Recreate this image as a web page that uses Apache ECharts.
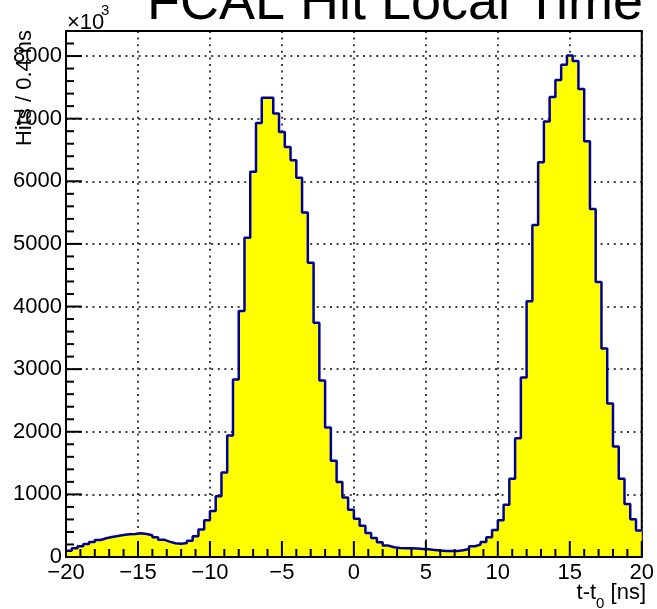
<!DOCTYPE html>
<html>
<head>
<meta charset="utf-8">
<script src="https://cdn.jsdelivr.net/npm/echarts@6/dist/echarts.min.js"></script>
<style>
html,body{margin:0;padding:0;background:#fff;}
#c{width:657px;height:609px;}
</style>
</head>
<body>
<div id="c"></div>
<script>
// ---- data ----
const titleText = 'FCAL Hit Local Time';
const yTitle = 'Hits / 0.4 ns';
const binLow = -20;
const binWidth = 0.4;
const xMin = -20, xMax = 20, xInterval = 5, xMinorInterval = 1;
const yMin = 0, yMax = 8400, yInterval = 1000, yMinorInterval = 200;
const counts = [
  100, 139, 171, 208, 240, 272, 299, 320, 336, 352,
  363, 368, 378, 368, 347, 315, 277, 246, 219, 213,
  225, 260, 330, 440, 585, 735, 970, 1350, 1940, 2833,
  3929, 5098, 6151, 6932, 7333, 7333, 7081, 6788, 6549, 6337,
  6055, 5502, 4699, 3742, 2817, 2068, 1537, 1197, 952, 755,
  612, 500, 384, 304, 235, 182, 155, 144, 139, 139,
  134, 129, 123, 113, 102, 97, 97, 97, 107, 129,
  171, 198, 240, 314, 430, 585, 836, 1250, 1898, 2866,
  4083, 5300, 6305, 6954, 7347, 7618, 7863, 8007, 7922, 7475,
  6640, 5556, 4392, 3329, 2452, 1766, 1250, 846, 601, 425
];

// ---- build ----
const stepData = counts.map((c, i) => [binLow + i * binWidth, c]);
stepData.push([binLow + counts.length * binWidth, counts[counts.length - 1]]);

const xTickValues = [];
for (let v = xMin; v <= xMax; v += xMinorInterval) xTickValues.push(v);
const yTickValues = [];
for (let v = yMin; v <= yMax; v += yMinorInterval) yTickValues.push(v);

const FONT = '"Liberation Sans", Arial, Helvetica, sans-serif';
const fmtX = v => (v < 0 ? '\u2212' + Math.abs(v) : String(v));
const fmtY = v => String(v);
const MAJOR_LEN = 16, MINOR_LEN = 8;

const chart = echarts.init(document.getElementById('c'), null, {renderer: 'canvas'});
const gridLine = {show: true, lineStyle: {color: '#000', width: 1.5, type: [2, 4.6]}};

const graphics = [
  {type: 'text', id: 'title', z: 100, style: {text: titleText, x: 395, y: 4, align: 'center', verticalAlign: 'middle', font: '54px ' + FONT, fill: '#000'}},
  {type: 'text', id: 'mult', z: 100, style: {text: '\u00d710', x: 67, y: 23, align: 'left', verticalAlign: 'middle', font: '22px ' + FONT, fill: '#000'}},
  {type: 'text', id: 'exp', z: 100, style: {text: '3', x: 101, y: 11, align: 'left', verticalAlign: 'middle', font: '15px ' + FONT, fill: '#000'}},
  {type: 'text', id: 'ytitle', z: 100, rotation: Math.PI / 2, x: 25, y: 88, style: {text: yTitle, x: 0, y: 0, align: 'center', verticalAlign: 'middle', font: '22px ' + FONT, fill: '#000'}},
  {type: 'text', id: 'xtitle', z: 100, style: {
    text: '{a|t-t}{b|0}{a| [ns]}', x: 646, y: 575, align: 'right', verticalAlign: 'top',
    rich: {
      a: {fontSize: 22, fontFamily: FONT, lineHeight: 36, verticalAlign: 'middle', fill: '#000', color: '#000'},
      b: {fontSize: 15, fontFamily: FONT, lineHeight: 12, verticalAlign: 'bottom', fill: '#000', color: '#000'}
    }
  }}
];

chart.setOption({
  animation: false,
  backgroundColor: '#fff',
  grid: {left: 66, right: 10, top: 31, bottom: 52, show: true, borderColor: '#000', borderWidth: 2, backgroundColor: 'transparent', z: 0},
  xAxis: [
    {type: 'value', min: xMin, max: xMax, interval: xInterval, position: 'bottom', z: 0,
      axisLine: {show: false, onZero: false}, axisTick: {show: false}, axisLabel: {show: false}, splitLine: gridLine},
    {type: 'value', min: xMin, max: xMax, interval: xInterval, position: 'bottom', z: 10,
      axisLine: {show: true, onZero: false, lineStyle: {color: '#000', width: 2}},
      axisTick: {show: false},
      axisLabel: {show: true, margin: 5, color: '#000', fontSize: 22, fontFamily: FONT, formatter: fmtX},
      splitLine: {show: false}}
  ],
  yAxis: [
    {type: 'value', min: yMin, max: yMax, interval: yInterval, position: 'left', z: 0,
      axisLine: {show: false, onZero: false}, axisTick: {show: false}, axisLabel: {show: false}, splitLine: gridLine},
    {type: 'value', min: yMin, max: yMax, interval: yInterval, position: 'left', z: 10,
      axisLine: {show: true, onZero: false, lineStyle: {color: '#000', width: 2}},
      axisTick: {show: false},
      axisLabel: {show: true, margin: 4, color: '#000', fontSize: 22, fontFamily: FONT, showMaxLabel: false, formatter: fmtY},
      splitLine: {show: false}}
  ],
  series: [{
    type: 'line',
    xAxisIndex: 0, yAxisIndex: 0,
    data: stepData,
    step: 'end',
    showSymbol: false,
    symbol: 'none',
    lineStyle: {color: '#000099', width: 2.5},
    areaStyle: {color: '#ffff00', opacity: 1, origin: 'start'},
    z: 2
  }]
});

// tick marks as filled rectangles, positioned through the library's own axis scales
xTickValues.forEach((v, i) => {
  const p = chart.convertToPixel({xAxisIndex: 0, yAxisIndex: 0}, [v, yMin]);
  const len = (v % xInterval === 0) ? MAJOR_LEN : MINOR_LEN;
  graphics.push({type: 'rect', id: 'xt' + i, z: 50, silent: true,
    shape: {x: p[0] - 1, y: p[1] - len, width: 2, height: len},
    style: {fill: '#000'}});
});
yTickValues.forEach((v, i) => {
  const p = chart.convertToPixel({xAxisIndex: 0, yAxisIndex: 0}, [xMin, v]);
  const len = (v % yInterval === 0) ? MAJOR_LEN : MINOR_LEN;
  graphics.push({type: 'rect', id: 'yt' + i, z: 50, silent: true,
    shape: {x: p[0], y: p[1] - 1, width: len, height: 2},
    style: {fill: '#000'}});
});
chart.setOption({graphic: graphics});
</script>
</body>
</html>
